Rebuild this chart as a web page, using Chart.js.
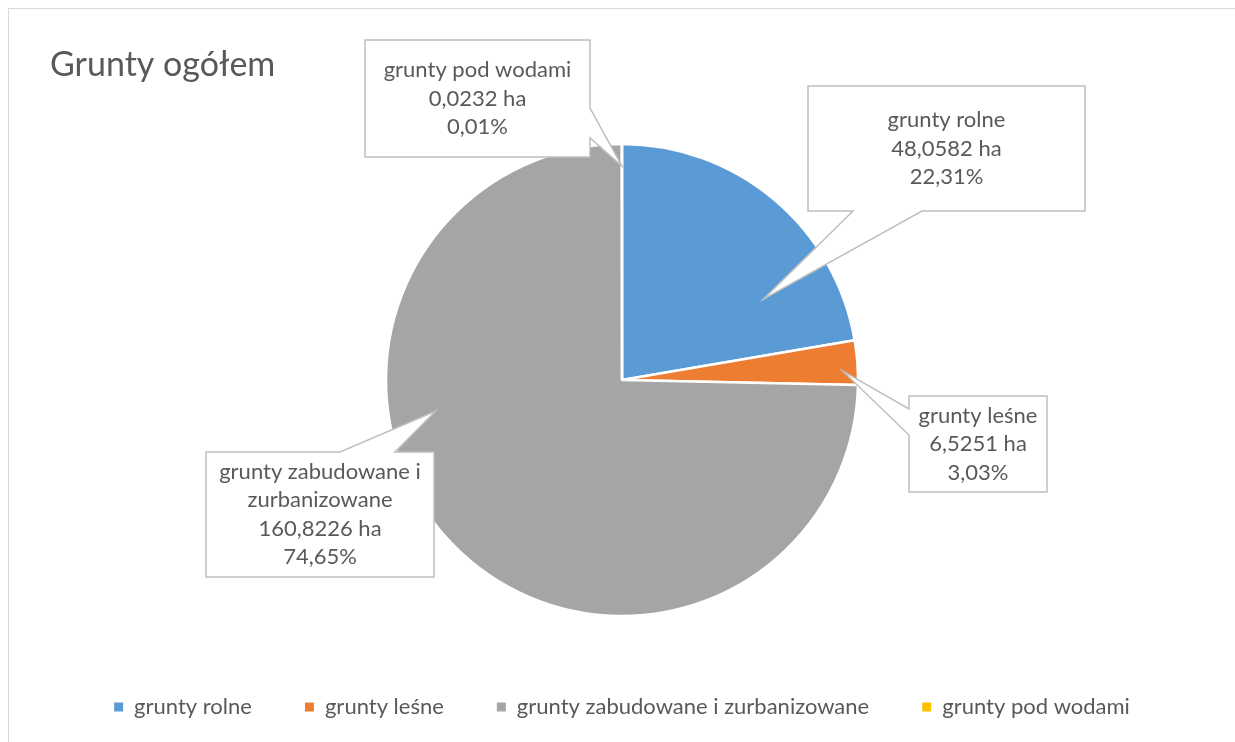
<!DOCTYPE html>
<html><head><meta charset="utf-8">
<script src="https://cdn.jsdelivr.net/npm/chart.js@4.4.1/dist/chart.umd.min.js"></script>
<style>html,body{margin:0;padding:0;background:#fff;}#wrap{width:1235px;height:742px;}</style>
</head><body><div id="wrap"><canvas id="c" width="1235" height="742"></canvas></div>
<script>
const chartTitle = 'Grunty ogółem';
const categories = ['grunty rolne', 'grunty leśne', 'grunty zabudowane i zurbanizowane', 'grunty pod wodami'];
const areaHa = [48.0582, 6.5251, 160.8226, 0.0232];
const unitLabel = 'ha';
const sliceColors = ['#5B9BD5', '#ED7D31', '#A5A5A5', '#FFC000'];

// callout layout (positions only): box [x,y,w,h], edge of pointer, pointer base, tip (fraction of slice angle, fraction of radius)
const calloutLayout = [
  {box: [808, 86, 277, 125], edge: 'bottom', base: [853, 922], tip: [0.75, 0.69]},
  {box: [909, 396, 138, 96], edge: 'left', base: [409, 435], tip: [0.68, 0.937]},
  {box: [206, 452, 228, 125], edge: 'top', base: [340, 395], tip: [0.63, 0.80]},
  {box: [365, 40, 225, 117], edge: 'right', base: [108, 138], tip: [0.5, 0.906]}
];

const TEXT = '#595959';
const FONT = 'Lato, "Open Sans", sans-serif';

function fmt(v, d) { return v.toFixed(d).replace('.', ','); }
function wrap(ctx, text, maxW) {
  const words = text.split(' '); const lines = []; let cur = '';
  words.forEach(w => {
    const t = cur ? cur + ' ' + w : w;
    if (ctx.measureText(t).width > maxW && cur) { lines.push(cur); cur = w; } else cur = t;
  });
  if (cur) lines.push(cur);
  return lines;
}

const bgPlugin = {
  id: 'bg',
  beforeDraw(chart) {
    const c = chart.ctx;
    c.save();
    c.fillStyle = '#fff';
    c.fillRect(0, 0, chart.width, chart.height);
    c.strokeStyle = '#D9D9D9';
    c.lineWidth = 1;
    c.strokeRect(8.5, 8.5, chart.width + 20, chart.height + 20);
    c.restore();
  }
};

const calloutPlugin = {
  id: 'callouts',
  afterDraw(chart) {
    const c = chart.ctx;
    const meta = chart.getDatasetMeta(0);
    const total = areaHa.reduce((a, b) => a + b, 0);
    c.save();
    calloutLayout.forEach((L, i) => {
      const arc = meta.data[i];
      const p = arc.getProps(['x', 'y', 'startAngle', 'endAngle', 'outerRadius'], true);
      const a = p.startAngle + L.tip[0] * (p.endAngle - p.startAngle);
      const tx = p.x + Math.cos(a) * p.outerRadius * L.tip[1];
      const ty = p.y + Math.sin(a) * p.outerRadius * L.tip[1];
      const [x, y, w, h] = L.box;
      const [b1, b2] = L.base;
      c.beginPath();
      c.moveTo(x, y);
      if (L.edge === 'top') { c.lineTo(b1, y); c.lineTo(tx, ty); c.lineTo(b2, y); }
      c.lineTo(x + w, y);
      if (L.edge === 'right') { c.lineTo(x + w, b1); c.lineTo(tx, ty); c.lineTo(x + w, b2); }
      c.lineTo(x + w, y + h);
      if (L.edge === 'bottom') { c.lineTo(b2, y + h); c.lineTo(tx, ty); c.lineTo(b1, y + h); }
      c.lineTo(x, y + h);
      if (L.edge === 'left') { c.lineTo(x, b2); c.lineTo(tx, ty); c.lineTo(x, b1); }
      c.closePath();
      c.fillStyle = '#fff';
      c.fill();
      c.strokeStyle = '#BFBFBF';
      c.lineWidth = 1.5;
      c.lineJoin = 'miter';
      c.stroke();

      c.font = '22px ' + FONT;
      c.fillStyle = TEXT;
      c.textAlign = 'center';
      c.textBaseline = 'middle';
      const lines = wrap(c, categories[i], w - 14);
      lines.push(fmt(areaHa[i], 4) + ' ' + unitLabel);
      lines.push(fmt(areaHa[i] / total * 100, 2) + '%');
      const lh = 28.5;
      const cy = y + h / 2 - (lines.length - 1) * lh / 2;
      lines.forEach((t, k) => c.fillText(t, x + w / 2, cy + k * lh));
    });
    c.restore();
  }
};

new Chart(document.getElementById('c'), {
  type: 'pie',
  data: {
    labels: categories,
    datasets: [{
      data: areaHa,
      backgroundColor: sliceColors,
      borderColor: '#ffffff',
      borderWidth: 2.5,
      radius: 236
    }]
  },
  options: {
    responsive: false,
    animation: false,
    layout: {padding: {left: 50, right: 41, top: 45, bottom: 14}},
    plugins: {
      title: {
        display: true, text: chartTitle, align: 'start', color: TEXT,
        font: {family: FONT, size: 34, weight: 'normal', lineHeight: 1.2},
        padding: {top: 0, bottom: 31.2}
      },
      legend: {
        position: 'bottom',
        labels: {
          boxWidth: 9, boxHeight: 9, padding: 53, color: TEXT,
          font: {family: FONT, size: 22},
          generateLabels(chart) {
            const items = Chart.overrides.doughnut.plugins.legend.labels.generateLabels(chart);
            items.forEach(it => { it.lineWidth = 0; it.strokeStyle = 'rgba(0,0,0,0)'; });
            return items;
          }
        }
      },
      tooltip: {enabled: false}
    }
  },
  plugins: [bgPlugin, calloutPlugin]
});
</script></body></html>
